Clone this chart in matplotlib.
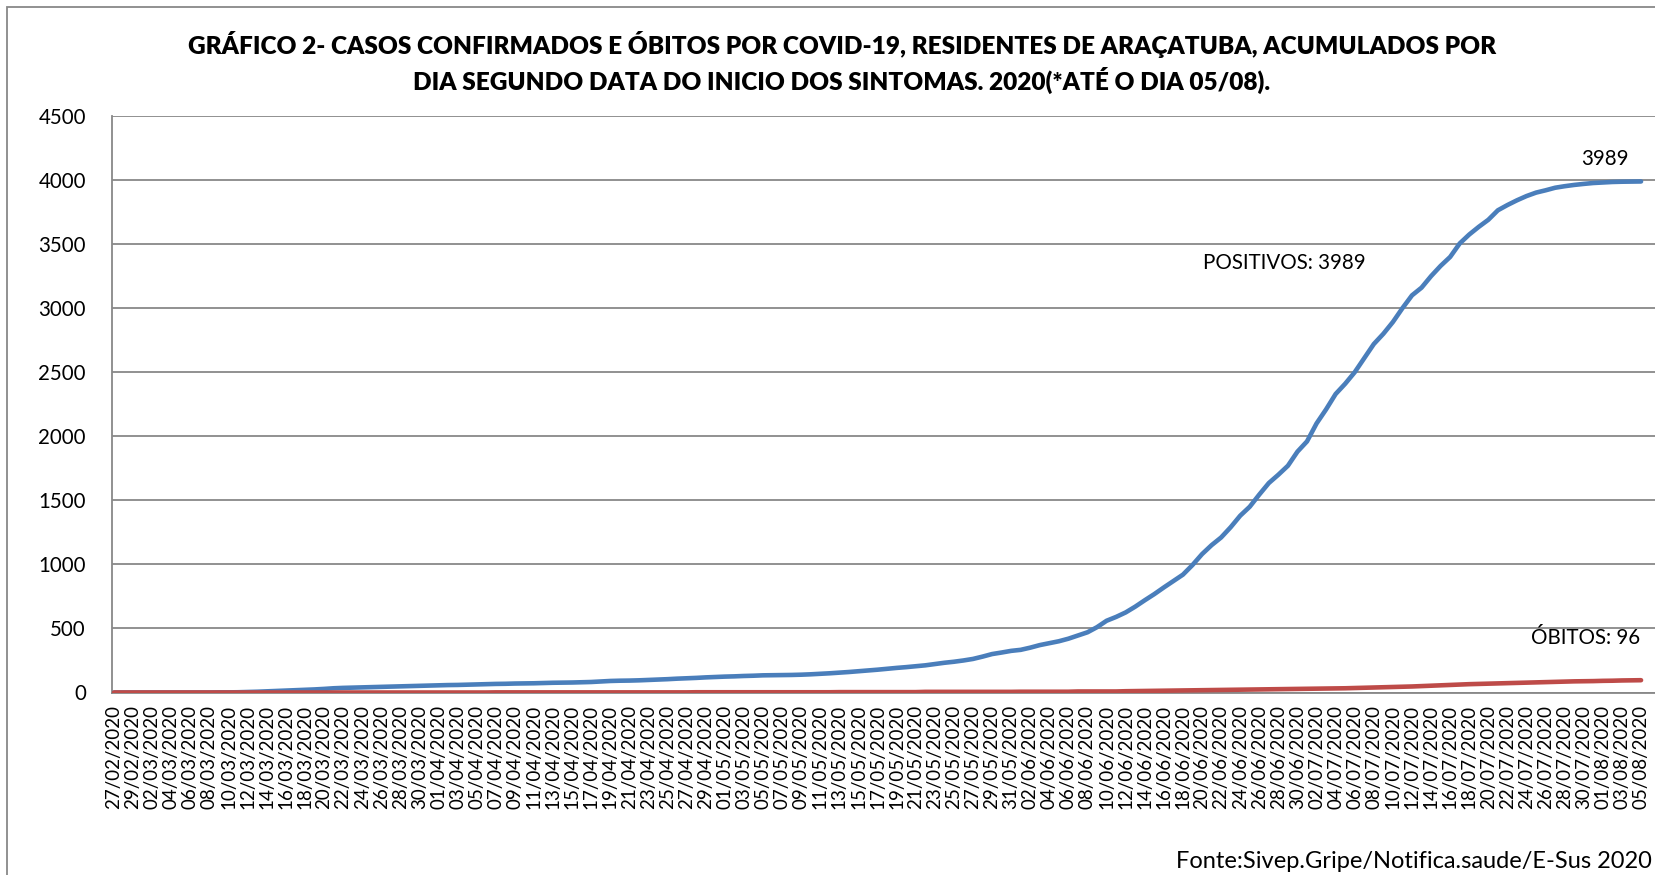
import pandas as pd
import numpy as np
import matplotlib.pyplot as plt
from matplotlib.patches import Rectangle

# =========================
# DADOS
# =========================
datas = pd.date_range("2020-02-27", "2020-08-05", freq="D")
rotulos_datas = [d.strftime("%d/%m/%Y") for d in datas]

positivos = [
    0, 0, 0, 0, 0, 0, 0, 0, 0, 0,
    0, 1, 1, 2, 4, 6, 9, 12, 15, 18,
    21, 24, 28, 33, 36, 38, 40, 42, 44, 46,
    48, 50, 52, 54, 56, 58, 59, 61, 63, 65,
    67, 68, 70, 71, 72, 74, 76, 77, 78, 80,
    82, 86, 90, 92, 93, 95, 98, 101, 104, 108,
    111, 114, 118, 121, 124, 126, 129, 131, 134, 135,
    136, 137, 139, 142, 146, 150, 155, 160, 166, 172,
    178, 185, 192, 198, 205, 212, 222, 232, 240, 250,
    262, 280, 300, 312, 325, 333, 350, 370, 385, 400,
    420, 445, 470, 510, 560, 590, 625, 670, 720, 768,
    820, 870, 920, 995, 1080, 1150, 1210, 1290, 1380, 1450,
    1545, 1635, 1700, 1770, 1880, 1960, 2100, 2210, 2330, 2410,
    2500, 2610, 2720, 2800, 2892, 3000, 3100, 3160, 3250, 3330,
    3400, 3505, 3575, 3635, 3690, 3764, 3805, 3842, 3875, 3902,
    3920, 3940, 3952, 3962, 3970, 3977, 3981, 3985, 3987, 3988,
    3989,
]

obitos = [
    0, 0, 0, 0, 0, 0, 0, 0, 0, 0,
    0, 0, 0, 0, 0, 0, 0, 0, 0, 0,
    0, 0, 0, 0, 0, 0, 0, 0, 0, 0,
    0, 0, 0, 0, 0, 0, 0, 0, 0, 0,
    1, 1, 1, 1, 1, 1, 1, 1, 1, 1,
    1, 1, 1, 1, 1, 1, 1, 1, 1, 1,
    1, 2, 2, 2, 2, 2, 2, 2, 2, 2,
    2, 2, 2, 2, 2, 2, 3, 3, 3, 3,
    3, 3, 3, 3, 3, 5, 5, 5, 5, 5,
    5, 5, 5, 5, 5, 6, 6, 6, 6, 6,
    6, 8, 8, 8, 8, 8, 10, 11, 12, 13,
    14, 15, 16, 17, 18, 19, 20, 21, 22, 23,
    24, 25, 26, 27, 28, 29, 30, 31, 32, 33,
    35, 37, 39, 41, 43, 45, 47, 50, 53, 56,
    59, 62, 65, 67, 69, 71, 73, 75, 77, 79,
    81, 83, 85, 87, 88, 89, 91, 92, 94, 95,
    96,
]

titulo = ("GRÁFICO 2- CASOS CONFIRMADOS E ÓBITOS POR COVID-19, RESIDENTES DE ARAÇATUBA, ACUMULADOS POR\n"
          "DIA SEGUNDO DATA DO INICIO DOS SINTOMAS. 2020(*ATÉ O DIA 05/08).")
fonte = "Fonte:Sivep.Gripe/Notifica.saude/E-Sus 2020"

# ===== CONFIG VISUAL =====
plt.rcParams["font.family"] = ["Lato", "DejaVu Sans"]

W, H = 1656, 875
fig = plt.figure(figsize=(W / 100, H / 100), dpi=100)

ax_l, ax_r = 112.3, 1656
ax_t, ax_b = 116, 692.5
ax = fig.add_axes([ax_l / W, 1 - ax_b / H, (ax_r - ax_l) / W, (ax_b - ax_t) / H])

x = np.arange(len(datas))
ax.plot(x, positivos, color="#4A7EBB", lw=3.3, solid_capstyle="round", zorder=3)
ax.plot(x, obitos, color="#BE4B48", lw=3.3, solid_capstyle="round", zorder=4)

ax.set_ylim(0, 4500)
ax.set_xlim(-0.18, (1656 - 114) / 9.544)
ax.set_yticks(np.arange(0, 4501, 500))
ax.set_xticks(x[::2])
ax.set_xticklabels(rotulos_datas[::2], rotation=90, fontsize=13.5)
ax.tick_params(axis="x", length=0, pad=9)
ax.tick_params(axis="y", length=0, pad=19, labelsize=14.8)

ax.grid(axis="y", color="#888888", lw=1.3)
ax.set_axisbelow(True)
for s in ["top", "right"]:
    ax.spines[s].set_visible(False)
ax.spines["left"].set_color("#888888")
ax.spines["left"].set_linewidth(1.3)
ax.spines["bottom"].set_color("#888888")
ax.spines["bottom"].set_linewidth(1.3)

# textos
fig.text(842 / W, 1 - 62.5 / H, titulo, ha="center", va="center",
         fontsize=17.6, fontweight="heavy", linespacing=1.35)
fig.text(1203 / W, 1 - 263 / H, f"POSITIVOS: {positivos[-1]}", ha="left", va="center", fontsize=14.8)
fig.text(1605 / W, 1 - 159 / H, f"{positivos[-1]}", ha="center", va="center", fontsize=14.8)
fig.text(1531 / W, 1 - 638 / H, f"ÓBITOS: {obitos[-1]}", ha="left", va="center", fontsize=14.8)
fig.text(1652 / W, 1 - 861 / H, fonte, ha="right", va="center", fontsize=17.0)

# moldura
fig.patches.append(Rectangle((7 / W, -0.1), 2, 1 - 7 / H + 0.1, transform=fig.transFigure,
                             fill=False, edgecolor="#888888", lw=1.3))

fig.savefig("out.png", dpi=100)
